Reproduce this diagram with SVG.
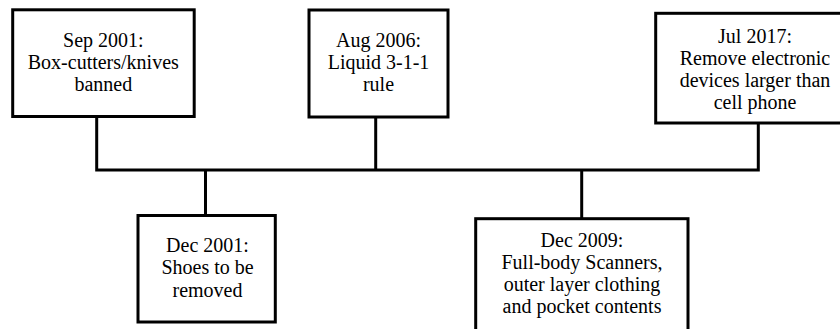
<svg xmlns="http://www.w3.org/2000/svg" width="840" height="329" viewBox="0 0 840 329">
<style>
.box{fill:#fff;stroke:#000;stroke-width:3}
.ln{fill:none;stroke:#000;stroke-width:3;stroke-linejoin:miter}
.t{font-family:'Liberation Serif','Tinos','DejaVu Serif','Noto Serif',serif;font-size:20px;fill:#000;text-anchor:middle}
</style>
<rect width="840" height="329" fill="#fff"/>
<g id="connectors">
<polyline class="ln" points="96.7,116.5 96.7,170 758.3,170 758.3,123"/>
<line class="ln" x1="375.7" y1="117" x2="375.7" y2="170"/>
<line class="ln" x1="205.5" y1="170" x2="205.5" y2="215.5"/>
<line class="ln" x1="581.7" y1="170" x2="581.7" y2="218.7"/>
</g>
<g id="n1">
<rect class="box" x="12.7" y="9.8" width="181.5" height="106.7"/>
<text class="t" x="103.3" y="47">Sep 2001:</text>
<text class="t" x="103.3" y="69">Box-cutters/knives</text>
<text class="t" x="103.3" y="91">banned</text>
</g>
<g id="n2">
<rect class="box" x="309" y="10" width="139" height="107"/>
<text class="t" x="378.5" y="47">Aug 2006:</text>
<text class="t" x="378.5" y="69">Liquid 3-1-1</text>
<text class="t" x="378.5" y="91">rule</text>
</g>
<g id="n3">
<rect class="box" x="655.7" y="13.3" width="200" height="109.7"/>
<text class="t" x="755" y="43">Jul 2017:</text>
<text class="t" x="755" y="65">Remove electronic</text>
<text class="t" x="755" y="87">devices larger than</text>
<text class="t" x="755" y="108.5">cell phone</text>
</g>
<g id="n4">
<rect class="box" x="138" y="215.5" width="137.3" height="106.5"/>
<text class="t" x="207.5" y="252">Dec 2001:</text>
<text class="t" x="207.5" y="274">Shoes to be</text>
<text class="t" x="207.5" y="296.5">removed</text>
</g>
<g id="n5">
<rect class="box" x="475.7" y="218.7" width="212.3" height="125"/>
<text class="t" x="582" y="247">Dec 2009:</text>
<text class="t" x="582" y="268.5">Full-body Scanners,</text>
<text class="t" x="582" y="290.5">outer layer clothing</text>
<text class="t" x="582" y="313">and pocket contents</text>
</g>
</svg>
